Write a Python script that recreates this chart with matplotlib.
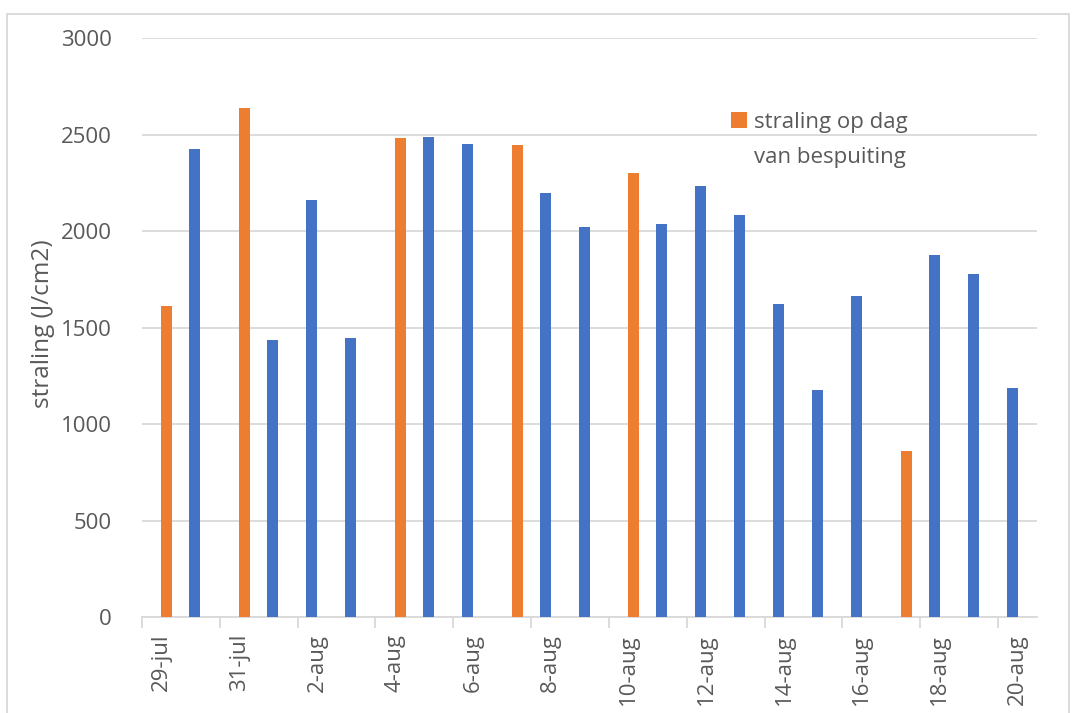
import matplotlib
matplotlib.use("Agg")
import matplotlib.pyplot as plt
from matplotlib.patches import Patch, Rectangle

plt.rcParams["font.family"] = ["Open Sans", "DejaVu Sans"]

# Axis labels, one every second day (day 0 = 29-jul)
tick_days = [0, 2, 4, 6, 8, 10, 12, 14, 16, 18, 20, 22]
tick_labels = ["29-jul", "31-jul", "2-aug", "4-aug", "6-aug", "8-aug",
               "10-aug", "12-aug", "14-aug", "16-aug", "18-aug", "20-aug"]

# Daily radiation (J/cm2)
blue_days = [0, 2, 3, 4, 6, 7, 9, 10, 12, 13, 14, 15, 16, 17, 19, 20, 21]
blue_values = [2426, 1434, 2162, 1446, 2489, 2452, 2195, 2019, 2036, 2231,
               2081, 1622, 1179, 1662, 1876, 1776, 1188]

# Radiation on spraying days (J/cm2)
spray_days = [0, 2, 6, 9, 12, 19]
spray_values = [1612, 2636, 2484, 2448, 2302, 862]

legend_lines = ["straling op dag", "van bespuiting"]
y_label = "straling (J/cm2)"

BLUE = "#4472C4"
ORANGE = "#ED7D31"
GRID = "#D9D9D9"
TEXT = "#595959"

W, H = 1076, 713
x0, x1, y_top, y_bot = 142, 1037, 38, 617.3

fig = plt.figure(figsize=(W / 100, H / 100), dpi=100)
ax = fig.add_axes([x0 / W, 1 - y_bot / H, (x1 - x0) / W, (y_bot - y_top) / H])

bar_w = 0.28
offset = 0.36
ax.bar([d + 0.5 - offset for d in spray_days], spray_values, width=bar_w,
       color=ORANGE, zorder=3)
ax.bar([d + 0.5 + offset for d in blue_days], blue_values, width=bar_w,
       color=BLUE, zorder=3)

ax.set_xlim(-0.5, 22.5)
ax.set_ylim(0, 3000)
ax.set_yticks(range(0, 3001, 500))
ax.yaxis.grid(True, color=GRID, linewidth=1.3, zorder=0)
ax.tick_params(axis="y", length=0, pad=22, labelsize=16, labelcolor=TEXT)

ax.set_xticks(tick_days)
ax.set_xticklabels(tick_labels, rotation=90, fontsize=16, color=TEXT)
ax.set_xticks([d - 0.5 for d in tick_days], minor=True)
ax.tick_params(axis="x", which="major", length=0, pad=12)
ax.tick_params(axis="x", which="minor", length=8, width=1.3, color=GRID,
               direction="out")

for side in ("left", "right", "top"):
    ax.spines[side].set_visible(False)
ax.spines["bottom"].set_color(GRID)
ax.spines["bottom"].set_linewidth(1.3)

ax.set_ylabel(y_label, fontsize=17.5, color=TEXT)
ax.yaxis.set_label_coords((55 - x0) / (x1 - x0), (y_bot - 323.5) / (y_bot - y_top))

handles = [Patch(facecolor=ORANGE, edgecolor="none"),
           Patch(facecolor="none", edgecolor="none")]
ax.legend(handles, legend_lines, loc="upper left",
          bbox_to_anchor=((731 - x0) / (x1 - x0), (y_bot - 112) / (y_bot - y_top)),
          frameon=False, fontsize=16, labelcolor=TEXT, handlelength=0.7,
          handleheight=0.7, handletextpad=0.35, labelspacing=0.62,
          borderaxespad=0, borderpad=0)

# Light chart-area frame (bottom edge sits just below the canvas)
fig.patches.append(Rectangle((7 / W, -0.01), (1069 - 7) / W,
                             1 - 14 / H + 0.01, transform=fig.transFigure,
                             fill=False, edgecolor=GRID, linewidth=1.3))

fig.savefig("out.png", dpi=100)
